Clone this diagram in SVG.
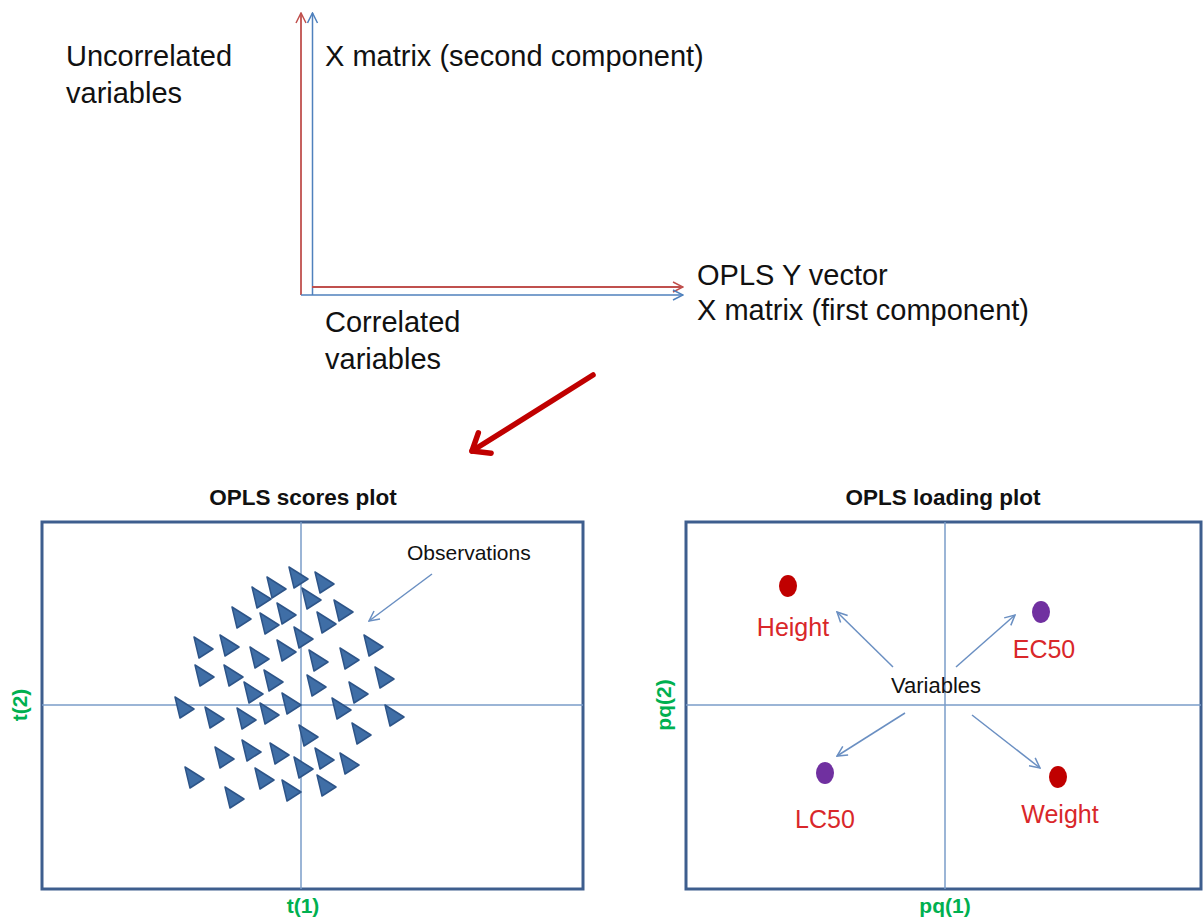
<svg xmlns="http://www.w3.org/2000/svg" xmlns:xlink="http://www.w3.org/1999/xlink" width="1203" height="924" viewBox="0 0 1203 924">
<style>
.t{font-family:"Liberation Sans",Arial,sans-serif;fill:#111}
.big{font-size:29px}
.ttl{font-size:22.5px;font-weight:bold;text-anchor:middle}
.ax{font-size:21px;font-weight:bold;fill:#00B050;text-anchor:middle}
.var{font-size:25px;fill:#D9272A;text-anchor:middle}
.box{fill:none;stroke:#3E5E8E;stroke-width:3}
.axis{stroke:#7A9CC8;stroke-width:1.5}
.thin{stroke:#6A8FC2;stroke-width:1.5;fill:none}
.tri{fill:#3F6EA6;stroke:#2D5488;stroke-width:1.5;stroke-linejoin:round}
</style>
<defs>
<marker id="mBlue" viewBox="0 0 12 12" refX="11" refY="6" markerWidth="12" markerHeight="12" markerUnits="userSpaceOnUse" orient="auto"><path d="M1,1 L11,6 L1,11" fill="none" stroke="#6A8FC2" stroke-width="1.5"/></marker>
<marker id="mAxB" viewBox="0 0 12 12" refX="11" refY="6" markerWidth="12" markerHeight="12" markerUnits="userSpaceOnUse" orient="auto"><path d="M1,1 L11,6 L1,11" fill="none" stroke="#4F81BD" stroke-width="1.5"/></marker>
<marker id="mAxR" viewBox="0 0 12 12" refX="11" refY="6" markerWidth="12" markerHeight="12" markerUnits="userSpaceOnUse" orient="auto"><path d="M1,1 L11,6 L1,11" fill="none" stroke="#C0504D" stroke-width="1.5"/></marker>
<marker id="mRed" viewBox="0 0 32 32" refX="27" refY="16" markerWidth="32" markerHeight="32" markerUnits="userSpaceOnUse" orient="auto"><path d="M12,4 L27,16 L12,28" fill="none" stroke="#C00000" stroke-width="5.5" stroke-linecap="round" stroke-linejoin="round"/></marker>
<polygon id="tri" class="tri" points="-8,-10 11,2 -3,11"/>
</defs>

<g id="connectors">
  <line x1="301" y1="295" x2="301" y2="13" stroke="#C0504D" stroke-width="1.8" marker-end="url(#mAxR)"/>
  <line x1="312.5" y1="295" x2="312.5" y2="13" stroke="#4F81BD" stroke-width="1.5" marker-end="url(#mAxB)"/>
  <line x1="312" y1="287" x2="683" y2="287" stroke="#C0504D" stroke-width="1.8" marker-end="url(#mAxR)"/>
  <line x1="301" y1="295" x2="683" y2="295" stroke="#4F81BD" stroke-width="1.5" marker-end="url(#mAxB)"/>
  <line x1="593" y1="375" x2="472" y2="451" stroke="#C00000" stroke-width="5.5" stroke-linecap="round" marker-end="url(#mRed)"/>
  <line x1="432" y1="574" x2="369" y2="621" class="thin" marker-end="url(#mBlue)"/>
  <line x1="893" y1="667" x2="837" y2="612" class="thin" marker-end="url(#mBlue)"/>
  <line x1="956" y1="667" x2="1015" y2="615" class="thin" marker-end="url(#mBlue)"/>
  <line x1="905" y1="713" x2="837" y2="756" class="thin" marker-end="url(#mBlue)"/>
  <line x1="972" y1="715" x2="1040" y2="768" class="thin" marker-end="url(#mBlue)"/>
</g>

<g id="top-labels">
  <text class="t big" x="66" y="66">Uncorrelated</text>
  <text class="t big" x="66" y="103">variables</text>
  <text class="t big" x="325" y="66">X matrix (second component)</text>
  <text class="t big" x="697" y="285">OPLS Y vector</text>
  <text class="t big" x="697" y="320">X matrix (first component)</text>
  <text class="t big" x="325" y="332">Correlated</text>
  <text class="t big" x="325" y="369">variables</text>
</g>

<g id="scores-plot">
  <text class="t ttl" x="303" y="505">OPLS scores plot</text>
  <rect class="box" x="42" y="522" width="541" height="367"/>
  <line class="axis" x1="301" y1="522" x2="301" y2="889"/>
  <line class="axis" x1="42" y1="705" x2="583" y2="705"/>
  <text class="t ax" x="303" y="913">t(1)</text>
  <text class="t ax" transform="translate(27,705) rotate(-90)">t(2)</text>
  <text class="t" x="407" y="560" font-size="21">Observations</text>
  <g id="observations">
    <use href="#tri" x="275" y="587"/><use href="#tri" x="297" y="577"/><use href="#tri" x="323" y="582"/><use href="#tri" x="260" y="597"/>
    <use href="#tri" x="310" y="598"/><use href="#tri" x="342" y="610"/><use href="#tri" x="240" y="617"/><use href="#tri" x="268" y="623"/>
    <use href="#tri" x="285" y="613"/><use href="#tri" x="325" y="622"/>
    <use href="#tri" x="202" y="647"/><use href="#tri" x="228" y="645"/><use href="#tri" x="258" y="657"/><use href="#tri" x="285" y="650"/>
    <use href="#tri" x="302" y="637"/><use href="#tri" x="317" y="660"/><use href="#tri" x="348" y="658"/><use href="#tri" x="372" y="645"/>
    <use href="#tri" x="203" y="675"/><use href="#tri" x="232" y="675"/><use href="#tri" x="272" y="680"/><use href="#tri" x="315" y="685"/>
    <use href="#tri" x="252" y="692"/><use href="#tri" x="357" y="692"/><use href="#tri" x="383" y="677"/>
    <use href="#tri" x="183" y="707"/><use href="#tri" x="213" y="717"/><use href="#tri" x="245" y="718"/><use href="#tri" x="268" y="713"/>
    <use href="#tri" x="290" y="703"/><use href="#tri" x="340" y="708"/><use href="#tri" x="393" y="715"/>
    <use href="#tri" x="307" y="735"/><use href="#tri" x="360" y="733"/>
    <use href="#tri" x="223" y="757"/><use href="#tri" x="250" y="750"/><use href="#tri" x="278" y="753"/><use href="#tri" x="302" y="767"/>
    <use href="#tri" x="323" y="758"/><use href="#tri" x="348" y="763"/>
    <use href="#tri" x="193" y="777"/><use href="#tri" x="263" y="778"/><use href="#tri" x="290" y="790"/><use href="#tri" x="325" y="785"/>
    <use href="#tri" x="233" y="797"/>
  </g>
</g>

<g id="loading-plot">
  <text class="t ttl" x="943" y="505">OPLS loading plot</text>
  <rect class="box" x="686" y="522" width="515" height="367"/>
  <line class="axis" x1="945" y1="522" x2="945" y2="889"/>
  <line class="axis" x1="686" y1="705" x2="1201" y2="705"/>
  <text class="t ax" x="945" y="913">pq(1)</text>
  <text class="t ax" transform="translate(671,705) rotate(-90)">pq(2)</text>
  <text class="t" x="936" y="693" font-size="22" text-anchor="middle">Variables</text>
</g>

<g id="var-height">
  <ellipse cx="788" cy="586" rx="9" ry="11" fill="#C00000"/>
  <text class="t var" x="793" y="636">Height</text>
</g>
<g id="var-ec50">
  <ellipse cx="1041" cy="612" rx="9" ry="11" fill="#7030A0"/>
  <text class="t var" x="1044" y="658">EC50</text>
</g>
<g id="var-lc50">
  <ellipse cx="825" cy="773" rx="9" ry="11" fill="#7030A0"/>
  <text class="t var" x="825" y="828">LC50</text>
</g>
<g id="var-weight">
  <ellipse cx="1058" cy="777" rx="9" ry="11" fill="#C00000"/>
  <text class="t var" x="1060" y="823">Weight</text>
</g>
</svg>
